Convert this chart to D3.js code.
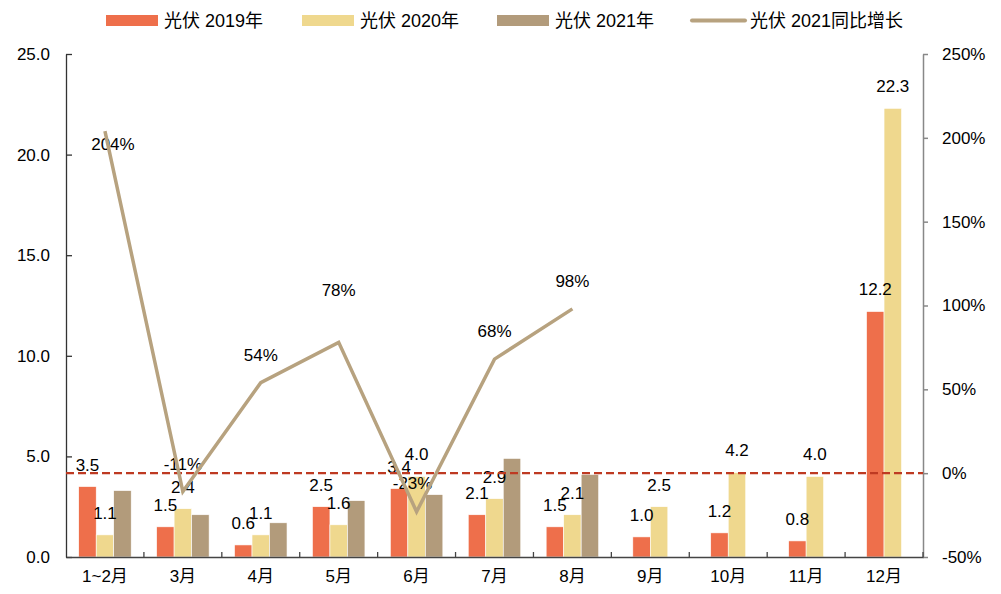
<!DOCTYPE html>
<html>
<head>
<meta charset="utf-8">
<script src="https://cdn.jsdelivr.net/npm/d3@7/dist/d3.min.js"></script>
<style>
  body { margin: 0; background: #fff; }
  text { font-family: "Liberation Sans", Arial, "Noto Sans CJK SC", sans-serif; fill: #000; }
</style>
</head>
<body>
<svg width="1001" height="594"></svg>
<script>
// data
var months = ["1~2月", "3月", "4月", "5月", "6月", "7月", "8月", "9月", "10月", "11月", "12月"];
var pv2019 = [3.5, 1.5, 0.6, 2.5, 3.4, 2.1, 1.5, 1.0, 1.2, 0.8, 12.2];
var pv2020 = [1.1, 2.4, 1.1, 1.6, 4.0, 2.9, 2.1, 2.5, 4.2, 4.0, 22.3];
var pv2021 = [3.3, 2.1, 1.7, 2.8, 3.1, 4.9, 4.1, null, null, null, null];
var growth2021 = [204, -11, 54, 78, -23, 68, 98];
var leftTicks = [0, 5, 10, 15, 20, 25];
var rightTicks = [-50, 0, 50, 100, 150, 200, 250];

var seriesNames = ["光伏 2019年", "光伏 2020年", "光伏 2021年"];
var seriesColors = ["#EE6F4B", "#EFD88E", "#B29B7B"];
var lineName = "光伏 2021同比增长";
var lineColor = "#B7A27F";

// hand-placed growth labels (as in the original)
var growthNudge = { 0: { dx: 8, dy: 13 }, 3: { dx: 0, dy: -52 }, 4: { dx: -4, dy: -29 } };

var svg = d3.select("svg");
var plotLeft = 66, plotRight = 923, plotTop = 54, plotBottom = 557;

var x = d3.scaleBand().domain(months).range([plotLeft, plotRight]).padding(0);
var y = d3.scaleLinear().domain([0, 25]).range([plotBottom, plotTop]);
var y2 = d3.scaleLinear().domain([-50, 250]).range([plotBottom, plotTop]);
var barW = 17.5;

var series = [pv2019, pv2020, pv2021];
var groups = months.map(function(m, i) {
    var items = [];
    series.forEach(function(s, k) {
        if (s[i] != null) items.push({ m: m, k: k, v: s[i] });
    });
    var n = items.length;
    items.forEach(function(d, j) {
        d.x = x(m) + x.bandwidth() / 2 + (j - n / 2) * barW;
    });
    return items;
});
var bars = [].concat.apply([], groups);

// bars
svg.append("g").selectAll("rect")
    .data(bars)
    .enter().append("rect")
    .attr("x", function(d) { return d.x; })
    .attr("y", function(d) { return y(d.v); })
    .attr("width", barW)
    .attr("height", function(d) { return plotBottom - y(d.v); })
    .attr("fill", function(d) { return seriesColors[d.k]; })
    .attr("stroke", "#fff")
    .attr("stroke-width", 0.6);

// left axis
var gl = svg.append("g").attr("transform", "translate(" + plotLeft + ",0)");
gl.call(d3.axisLeft(y).tickValues(leftTicks).tickFormat(d3.format(".1f")).tickSizeInner(-6).tickSizeOuter(0).tickPadding(16));
gl.select(".domain").attr("stroke", "#333").attr("stroke-width", 1.3);
gl.selectAll(".tick line").attr("stroke", "#333").attr("stroke-width", 1.3);
gl.selectAll(".tick text").style("font-size", "17px").attr("fill", "#000");

// right axis
var gr = svg.append("g").attr("transform", "translate(" + plotRight + ",0)");
gr.call(d3.axisRight(y2).tickValues(rightTicks).tickFormat(function(d) { return d + "%"; }).tickSizeInner(5).tickSizeOuter(0).tickPadding(14));
gr.select(".domain").attr("stroke", "#888").attr("stroke-width", 1.5);
gr.selectAll(".tick line").attr("stroke", "#888").attr("stroke-width", 1.5);
gr.selectAll(".tick text").style("font-size", "17px").attr("fill", "#000");

// bottom axis
var gb = svg.append("g").attr("transform", "translate(0," + plotBottom + ")");
gb.call(d3.axisBottom(x).tickSize(0).tickPadding(13));
gb.select(".domain").attr("stroke", "#444").attr("stroke-width", 1.5);
gb.selectAll(".tick text").style("font-size", "17px").attr("fill", "#000");
gb.selectAll(".sep")
    .data(months.slice(1).concat(["end"]))
    .enter().append("line")
    .attr("x1", function(d) { return d === "end" ? plotRight : x(d); })
    .attr("x2", function(d) { return d === "end" ? plotRight : x(d); })
    .attr("y1", 0).attr("y2", -5)
    .attr("stroke", "#444").attr("stroke-width", 1.3);

// bar value labels (2019, 2020)
svg.append("g").selectAll("text")
    .data(bars.filter(function(d) { return d.k < 2; }))
    .enter().append("text")
    .attr("x", function(d) { return d.x + barW / 2; })
    .attr("y", function(d) { return y(d.v) - 22; })
    .attr("dy", "0.35em")
    .attr("text-anchor", "middle")
    .style("font-size", "17px")
    .text(function(d) { return d3.format(".1f")(d.v); });

// growth labels
svg.append("g").selectAll("text")
    .data(growth2021)
    .enter().append("text")
    .attr("x", function(d, i) { return x(months[i]) + x.bandwidth() / 2 + (growthNudge[i] ? growthNudge[i].dx : 0); })
    .attr("y", function(d, i) { return y2(d) + (growthNudge[i] ? growthNudge[i].dy : -28); })
    .attr("dy", "0.35em")
    .attr("text-anchor", "middle")
    .style("font-size", "17px")
    .text(function(d) { return d + "%"; });

// zero-growth dashed line
svg.append("line")
    .attr("x1", plotLeft).attr("x2", plotRight)
    .attr("y1", y2(0)).attr("y2", y2(0))
    .attr("stroke", "#BE3A22").attr("stroke-width", 2.2)
    .attr("stroke-dasharray", "8,4");

// growth line
var line = d3.line()
    .x(function(d, i) { return x(months[i]) + x.bandwidth() / 2; })
    .y(function(d) { return y2(d); });
svg.append("path")
    .datum(growth2021)
    .attr("d", line)
    .attr("fill", "none")
    .attr("stroke", lineColor)
    .attr("stroke-width", 3.5);

// legend
var legendX = [106, 302, 497, 692];
var legend = svg.append("g");
seriesNames.forEach(function(name, k) {
    legend.append("rect")
        .attr("x", legendX[k]).attr("y", 15)
        .attr("width", 52).attr("height", 11)
        .attr("fill", seriesColors[k]);
    legend.append("text")
        .attr("x", legendX[k] + 58).attr("y", 20.5)
        .attr("dy", "0.35em")
        .style("font-size", "18px").attr("fill", "#222")
        .text(name);
});
legend.append("line")
    .attr("x1", legendX[3]).attr("x2", legendX[3] + 53)
    .attr("y1", 20.5).attr("y2", 20.5)
    .attr("stroke", lineColor).attr("stroke-width", 4)
    .attr("stroke-linecap", "round");
legend.append("text")
    .attr("x", legendX[3] + 58).attr("y", 20.5)
    .attr("dy", "0.35em")
    .style("font-size", "18px").attr("fill", "#222")
    .text(lineName);
</script>
</body>
</html>
